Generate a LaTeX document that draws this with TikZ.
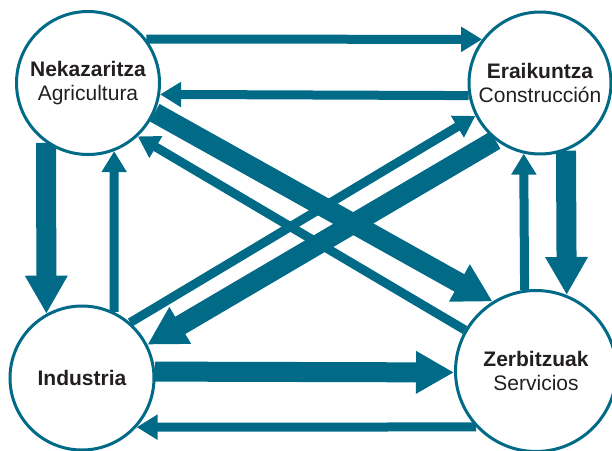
\documentclass[tikz,border=0pt]{standalone}
\usepackage{fontspec}
\setmainfont{Liberation Sans}
\usetikzlibrary{arrows.meta,backgrounds}
\definecolor{sectorteal}{RGB}{0,106,135}
\definecolor{textgray}{RGB}{35,31,32}

\begin{document}
\begin{tikzpicture}[x=1pt,y=-1pt,
    sector/.style={circle,draw=sectorteal,line width=3pt,fill=white,align=center,
      text=textgray,font=\fontsize{21}{24}\selectfont},
    flow/.style={draw=sectorteal,line width=9pt,-{Triangle[length=21pt,width=24pt]}},
    bigflow/.style={draw=sectorteal,line width=20pt,-{Triangle[length=38pt,width=40pt]}}]
  \useasboundingbox (0,0) rectangle (612,450);

  \node[sector,minimum size=143pt] (agri)   at (88,83)   {\textbf{Nekazaritza}\\Agricultura};
  \node[sector,minimum size=142pt] (constr) at (540,83)  {\textbf{Eraikuntza}\\Construcción};
  \node[sector,minimum size=144pt] (indus)  at (82,378)  {\textbf{Industria}};
  \node[sector,minimum size=161pt] (serv)   at (536,371) {\textbf{Zerbitzuak}\\Servicios};

  \begin{scope}[on background layer]
    \path (agri.37)    edge[flow]    (constr.143)
          (constr.190) edge[flow]    (agri.-9.5)
          (agri.-125)  edge[bigflow] (indus.119)
          (indus.64)   edge[flow]    (agri.-69)
          (indus.5)    edge[bigflow] (serv.181)
          (serv.223)   edge[flow]    (indus.-42)
          (serv.98)    edge[flow]    (constr.-103)
          (constr.-69) edge[bigflow] (serv.68.5)
          (agri.-24)   edge[bigflow] (serv.122)
          (serv.150)   edge[flow]    (agri.-47)
          (indus.49)   edge[flow]    (constr.207)
          (constr.232) edge[bigflow] (indus.27)
    ;
  \end{scope}
\end{tikzpicture}
\end{document}
